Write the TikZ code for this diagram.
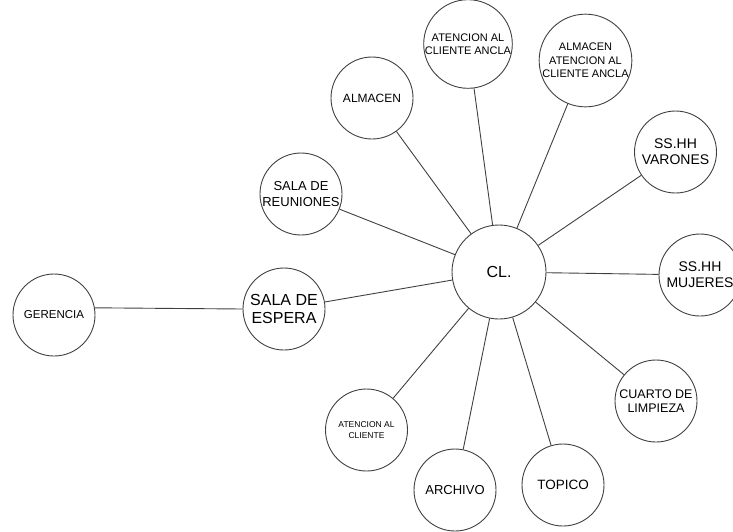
\documentclass[tikz,border=0pt]{standalone}
\usepackage{fontspec}
\setmainfont{Liberation Sans}
\begin{document}
\begin{tikzpicture}[x=1pt,y=-1pt,
  room/.style={circle,draw=black!75,line width=0.9pt,minimum size=82pt,
    inner sep=0pt,align=center,text=black},
  hub/.style={room,minimum size=94pt},
  link/.style={draw=black!75,line width=0.9pt}]
\useasboundingbox (0,0) rectangle (733,531);

% central hub
\node[hub,font=\fontsize{16}{18}\selectfont] (cl) at (499,272) {CL.};

% rooms around the hub
\node[room,font=\fontsize{16}{18.5}\selectfont] (espera) at (284,309) {SALA DE\\ESPERA};
\node[room,font=\fontsize{11.5}{13}\selectfont] (gerencia) at (54,315) {GERENCIA};
\node[room,font=\fontsize{13}{15.5}\selectfont] (reuniones) at (301,194) {SALA DE\\REUNIONES};
\node[room,font=\fontsize{12}{14}\selectfont] (almacen) at (372,98) {ALMACEN};
\node[room,font=\fontsize{11}{13}\selectfont] (ancla) at (468,44) {ATENCION AL\\CLIENTE ANCLA};
\node[room,font=\fontsize{11}{13.5}\selectfont] (almancla) at (585.5,60.5) {ALMACEN\\ATENCION AL\\CLIENTE ANCLA};
\node[room,font=\fontsize{14}{16}\selectfont] (varones) at (675.5,152) {SS.HH\\VARONES};
\node[room,font=\fontsize{14}{16}\selectfont] (mujeres) at (700,275) {SS.HH\\MUJERES};
\node[room,font=\fontsize{12.5}{14.5}\selectfont] (limpieza) at (656,401) {CUARTO DE\\LIMPIEZA};
\node[room,font=\fontsize{13.5}{15}\selectfont] (topico) at (563,485) {TOPICO};
\node[room,font=\fontsize{13}{15}\selectfont] (archivo) at (455,490) {ARCHIVO};
\node[room,font=\fontsize{8.5}{11}\selectfont] (atencion) at (366.5,430) {ATENCION AL\\CLIENTE};

% connectors
\draw[link] (gerencia.10) -- (espera.180);
\draw[link] (espera) -- (cl);
\draw[link] (reuniones) -- (cl);
\draw[link] (almacen) -- (cl);
\draw[link] (ancla) -- (cl);
\draw[link] (almancla) -- (cl);
\draw[link] (varones) -- (cl);
\draw[link] (mujeres) -- (cl);
\draw[link] (limpieza) -- (cl);
\draw[link] (topico) -- (cl);
\draw[link] (archivo) -- (cl);
\draw[link] (atencion) -- (cl);
\end{tikzpicture}
\end{document}
